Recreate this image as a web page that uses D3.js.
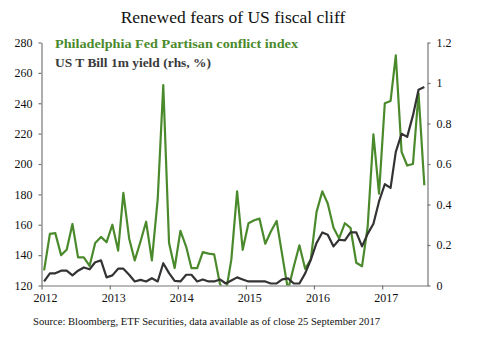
<!DOCTYPE html>
<html>
<head>
<meta charset="utf-8">
<script src="https://cdn.jsdelivr.net/npm/d3@7"></script>
<style>
  body { margin: 0; background: #fff; }
  svg text { font-family: "Liberation Serif", "DejaVu Serif", serif; }
</style>
</head>
<body>
<svg id="chart" width="499" height="341"></svg>
<script>
// Monthly data, Jan 2012 - Aug 2017
const startMonth = new Date(2012, 0, 15);

const partisanIndex = [
  130, 154, 154.5, 140, 143.5, 160.5, 138.5, 138.5, 133, 148, 152, 148.5,
  160, 143, 181, 151, 136.5, 149, 162, 136.5, 176.5, 252, 148, 131.5,
  156, 145.5, 131.5, 131.5, 142, 141, 140.5, 121, 115, 137, 182, 143.5,
  161, 163, 164, 147.5, 155.5, 162.5, 140, 117, 132.5, 146.5, 131, 137,
  168.5, 182, 174, 158, 151, 161, 158, 135, 132.7, 158.5, 219.5, 180.5,
  240, 241.5, 271.5, 208, 199, 200, 246.5, 186
];

const tbillYield = [
  0.02, 0.06, 0.06, 0.073, 0.073, 0.05, 0.073, 0.089, 0.08, 0.115, 0.124, 0.04,
  0.05, 0.083, 0.083, 0.053, 0.02, 0.028, 0.02, 0.036, 0.02, 0.11, 0.061, 0.023,
  0.02, 0.053, 0.053, 0.02, 0.03, 0.02, 0.02, 0.03, 0.01, 0.025, 0.04, 0.03,
  0.02, 0.02, 0.02, 0.02, 0.01, 0.01, 0.03, 0.035, 0.01, 0.01, 0.06, 0.127,
  0.21, 0.262, 0.251, 0.193, 0.226, 0.223, 0.262, 0.262, 0.193, 0.255, 0.305, 0.415,
  0.50, 0.482, 0.66, 0.749, 0.734, 0.84, 0.967, 0.98
];

const leftTicks = [120, 140, 160, 180, 200, 220, 240, 260, 280];
const rightTicks = [0, 0.2, 0.4, 0.6, 0.8, 1, 1.2];

const months = partisanIndex.map((_, i) => d3.timeMonth.offset(startMonth, i));

const svg = d3.select('#chart');
const plotLeft = 41.5, plotRight = 427.5, plotTop = 42.5, plotBottom = 285.5;

const x = d3.scaleTime()
  .domain([new Date(2012, 0, 1), new Date(2017, 8, 1)])
  .range([plotLeft, plotRight]);
const yL = d3.scaleLinear().domain([120, 280]).range([plotBottom, plotTop]);
const yR = d3.scaleLinear().domain([0, 1.2]).range([plotBottom, plotTop]);

const axisColor = '#777';
const green = '#4b8a2c';
const dark = '#333333';

// title
svg.append('text')
  .attr('x', 233).attr('y', 23)
  .attr('text-anchor', 'middle')
  .attr('font-size', 17.5)
  .attr('fill', '#111')
  .text('Renewed fears of US fiscal cliff');

// clip area
svg.append('clipPath').attr('id', 'plot')
  .append('rect')
  .attr('x', plotLeft).attr('y', 0)
  .attr('width', plotRight - plotLeft).attr('height', plotBottom);

// lines
const gLines = svg.append('g').attr('clip-path', 'url(#plot)');

gLines.append('path')
  .datum(partisanIndex)
  .attr('fill', 'none')
  .attr('stroke', green)
  .attr('stroke-width', 2.2)
  .attr('stroke-linejoin', 'round')
  .attr('d', d3.line().x((d, i) => x(months[i])).y(d => yL(d)));

gLines.append('path')
  .datum(tbillYield)
  .attr('fill', 'none')
  .attr('stroke', dark)
  .attr('stroke-width', 2.2)
  .attr('stroke-linejoin', 'round')
  .attr('d', d3.line().x((d, i) => x(months[i])).y(d => yR(d)));

// axes
function styleAxis(g) {
  g.selectAll('path, line').attr('stroke', axisColor).attr('stroke-width', 1.2);
  g.selectAll('text').attr('fill', '#111').attr('font-size', 12)
    .style('font-family', '"Liberation Serif", serif');
}

svg.append('g')
  .attr('transform', `translate(${plotLeft},0)`)
  .call(d3.axisLeft(yL).tickValues(leftTicks).tickSize(3).tickSizeOuter(0).tickPadding(6))
  .call(styleAxis);

svg.append('g')
  .attr('transform', `translate(${plotRight},0)`)
  .call(d3.axisRight(yR).tickValues(rightTicks).tickSize(3).tickSizeOuter(0).tickPadding(6)
    .tickFormat(d => d === 0 ? '0' : String(+d.toFixed(1))))
  .call(styleAxis);

const xAxis = svg.append('g')
  .attr('transform', `translate(0,${plotBottom})`)
  .call(d3.axisBottom(x).ticks(d3.timeYear.every(1)).tickSize(4).tickSizeOuter(0)
    .tickPadding(4).tickFormat(d3.timeFormat('%Y')))
  .call(styleAxis);
xAxis.selectAll('.tick text').attr('dx', 3.5);

// legend
svg.append('text')
  .attr('x', 55).attr('y', 48)
  .attr('font-size', 13.5).attr('font-weight', 'bold')
  .attr('fill', green)
  .attr('textLength', 243).attr('lengthAdjust', 'spacingAndGlyphs')
  .text('Philadelphia Fed Partisan conflict index');

svg.append('text')
  .attr('x', 55).attr('y', 67)
  .attr('font-size', 13.5).attr('font-weight', 'bold')
  .attr('fill', '#3a3a3a')
  .attr('textLength', 156).attr('lengthAdjust', 'spacingAndGlyphs')
  .text('US T Bill 1m yield (rhs, %)');

// source
svg.append('text')
  .attr('x', 33).attr('y', 325)
  .attr('font-size', 10)
  .attr('fill', '#111')
  .attr('textLength', 347).attr('lengthAdjust', 'spacingAndGlyphs')
  .text('Source: Bloomberg, ETF Securities, data available as of close 25 September 2017');
</script>
</body>
</html>
